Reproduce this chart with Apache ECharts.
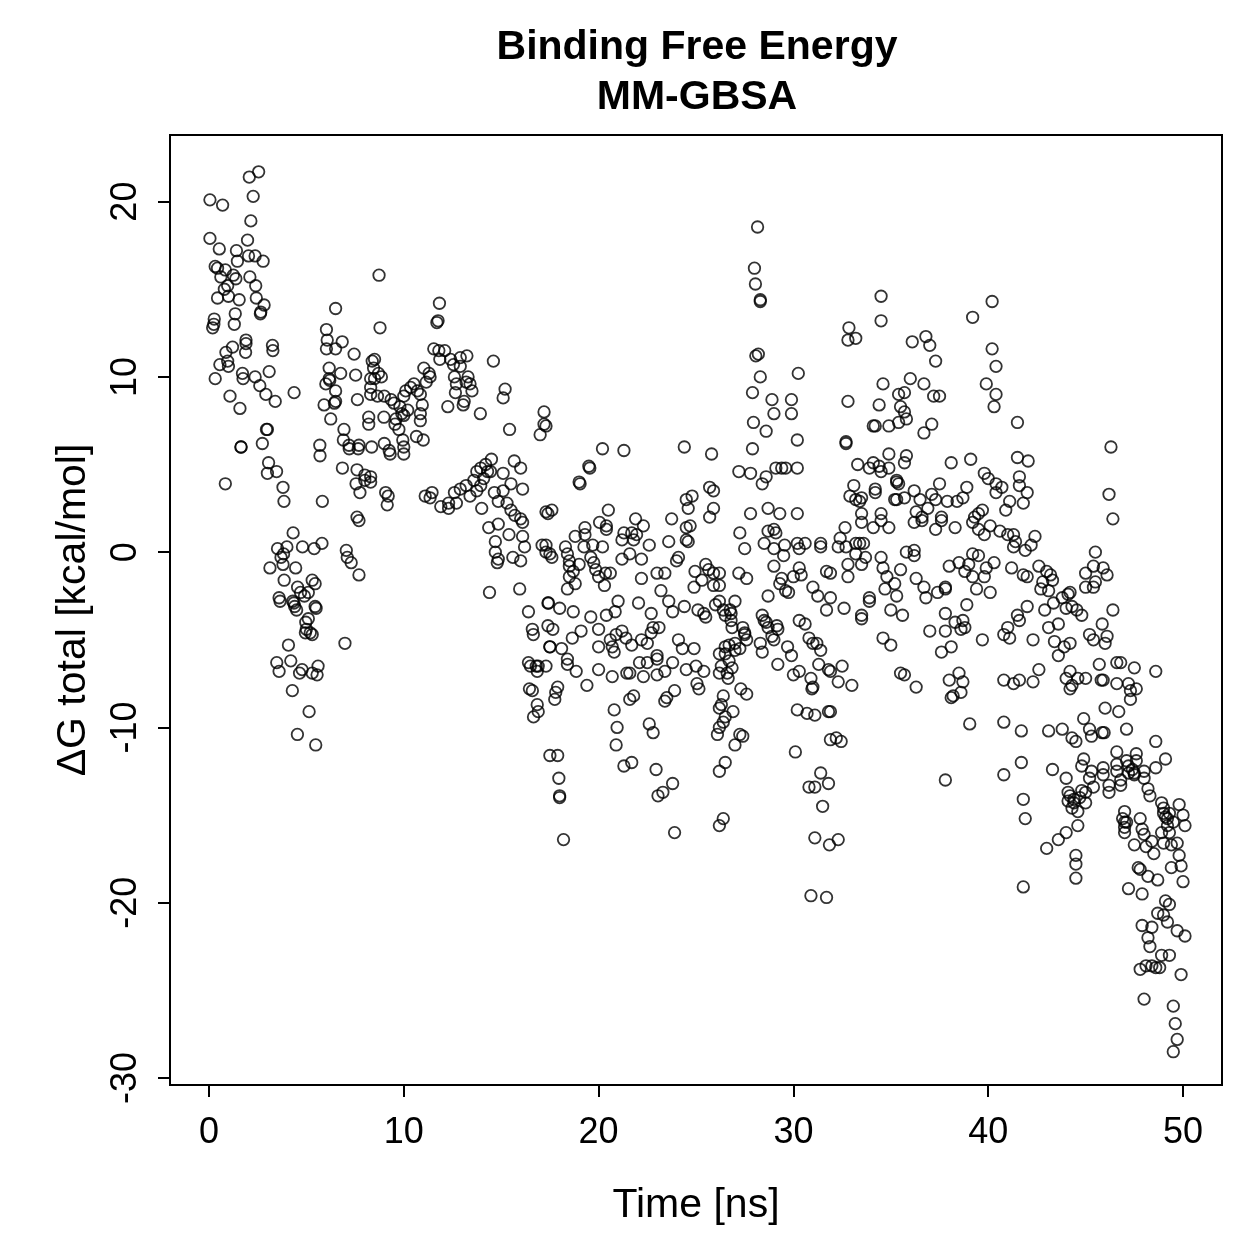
<!DOCTYPE html>
<html>
<head>
<meta charset="utf-8">
<title>Binding Free Energy MM-GBSA</title>
<script src="https://cdn.jsdelivr.net/npm/echarts@6/dist/echarts.min.js"></script>
<style>
  html, body { margin: 0; padding: 0; background: #fff; }
  #chart { width: 1259px; height: 1259px; }
</style>
</head>
<body>
<div id="chart"></div>
<script>
// tick positions shown on the axes
var xTicks = [0, 10, 20, 30, 40, 50];
var yTicks = [-30, -20, -10, 0, 10, 20];

// [time ns, dG kcal/mol], in time blocks
var seg0to5 = [[0.05,20.1],[0.7,19.8],[2.07,21.4],[2.55,21.7],[2.27,20.3],[2.15,18.9],[0.05,17.9],[1.98,17.8],[0.53,17.3],[1.41,17.2],[2.03,16.9],[2.37,16.9],[2.78,16.6],[1.46,16.6],[0.32,16.3],[0.44,16.2],[0.84,16.1],[0.61,15.7],[1.25,15.8],[1.38,15.6],[2.1,15.7],[2.4,15.2],[0.79,15.0],[0.96,15.2],[0.44,14.5],[1.0,14.6],[1.55,14.4],[2.43,14.5],[2.83,14.1],[2.66,13.7],[2.64,13.6],[1.35,13.6],[0.27,13.3],[0.25,13.0],[0.19,12.8],[1.3,13.0],[1.9,12.1],[1.9,11.9],[3.26,11.8],[3.28,11.5],[1.21,11.7],[0.87,11.4],[1.88,11.4],[0.56,10.7],[0.96,10.9],[1.0,10.6],[1.72,10.2],[1.75,9.9],[2.37,10.0],[3.09,10.3],[0.32,9.9],[2.61,9.5],[4.37,9.1],[2.92,9.0],[1.08,8.9],[3.4,8.6],[1.59,8.2],[2.95,7.0],[3.0,7.0],[2.74,6.2],[1.64,6.0],[1.65,6.0],[3.06,5.1],[3.0,4.5],[3.47,4.6],[0.84,3.9],[3.8,3.7],[3.85,2.9],[4.32,1.1],[3.52,0.2],[4.0,0.3],[3.83,-0.1],[3.7,-0.3],[4.8,0.3],[3.13,-0.9],[3.8,-0.7],[4.45,-0.9],[3.86,-1.6],[3.6,-2.6],[3.65,-2.8],[4.55,-2.0],[4.7,-2.3],[4.9,-2.5],[4.3,-2.8],[4.4,-3.1],[4.5,-3.3],[4.36,-2.9],[4.97,-4.0],[5.0,-4.4],[4.95,-4.6],[4.08,-5.3],[3.48,-6.3],[4.2,-6.2],[3.6,-6.8],[4.78,-6.7],[4.65,-6.9],[4.28,-7.9],[4.54,-10.4]];

var seg5to10 = [[6.5,13.9],[6.03,12.7],[6.07,12.1],[6.84,12.0],[6.03,11.6],[6.5,11.6],[7.45,11.3],[8.38,10.9],[6.17,10.5],[6.76,10.2],[7.53,10.1],[6.17,9.9],[6.2,9.8],[6.0,9.6],[8.3,9.9],[6.5,9.2],[5.91,8.4],[6.44,8.5],[6.5,8.6],[7.62,8.7],[8.3,9.0],[6.25,7.6],[8.2,7.3],[8.2,7.7],[6.93,7.0],[6.9,6.4],[7.19,6.1],[7.2,5.9],[7.7,6.1],[7.66,5.9],[5.69,6.1],[5.7,5.5],[6.85,4.8],[7.6,4.7],[8.0,4.4],[8.0,4.1],[7.55,3.9],[7.75,3.4],[5.82,2.9],[7.6,2.0],[7.7,1.8],[5.4,0.2],[5.8,0.5],[7.05,0.1],[7.1,-0.3],[7.3,-0.6],[7.7,-1.3],[5.3,-1.6],[5.45,-1.8],[5.1,-2.3],[5.45,-3.1],[5.1,-3.8],[5.5,-3.2],[5.2,-4.6],[5.3,-4.7],[6.98,-5.2],[5.3,-6.9],[5.55,-7.0],[5.6,-6.5],[5.14,-9.1],[5.48,-11.0],[8.73,15.8],[8.78,12.8],[8.5,11.0],[8.45,10.5],[8.7,10.2],[8.85,10.0],[8.5,9.9],[8.3,9.4],[8.65,8.9],[9.0,8.9],[9.35,8.7],[9.5,8.5],[8.98,7.7],[9.8,8.3],[9.9,7.9],[9.6,7.6],[9.55,7.3],[9.75,7.0],[9.95,6.4],[9.0,6.2],[9.25,5.8],[9.3,5.6],[8.35,6.0],[8.3,4.3],[8.3,4.0],[9.07,3.4],[9.2,3.2],[9.15,2.7]];

var seg10to15 = [[11.83,14.2],[11.76,13.2],[11.7,13.1],[11.54,11.6],[11.8,11.5],[12.1,11.5],[11.85,11.0],[13.24,11.2],[12.9,11.1],[12.4,11.0],[12.55,10.7],[12.9,10.6],[14.6,10.9],[11.03,10.5],[11.3,10.2],[11.35,10.0],[11.15,9.7],[12.6,10.0],[12.7,9.6],[13.3,10.0],[13.2,9.7],[13.5,9.2],[13.4,9.6],[10.52,9.6],[10.35,9.4],[10.7,9.2],[10.85,9.0],[10.1,9.2],[10.0,8.9],[12.65,9.1],[13.1,8.6],[13.05,8.4],[12.26,8.3],[13.93,7.9],[10.0,7.8],[10.2,8.1],[10.85,7.9],[10.85,7.5],[10.95,8.4],[10.65,6.6],[11.0,6.4],[10.0,6.0],[10.0,5.6],[11.1,3.2],[11.35,3.1],[11.45,3.4],[11.9,2.6],[12.3,2.5],[12.6,3.4],[12.3,2.8],[12.7,2.8],[12.9,3.6],[13.2,3.8],[13.4,3.2],[13.6,4.1],[13.75,4.6],[13.95,4.8],[14.2,5.0],[14.5,5.3],[14.3,4.6],[14.1,4.2],[13.95,3.8],[13.75,3.5],[14.45,4.6],[14.0,2.5],[14.36,1.4],[14.65,3.4],[14.85,2.9],[14.85,1.6],[14.7,0.6],[14.7,0.0],[14.85,-0.4],[14.8,-0.6],[14.4,-2.3]];

var seg15to20 = [[15.2,9.3],[15.1,8.8],[17.2,8.0],[17.2,7.3],[17.0,6.7],[15.43,7.0],[15.1,4.5],[15.67,5.2],[16.0,4.8],[15.1,3.5],[15.5,3.9],[16.1,3.6],[15.3,2.8],[15.5,2.4],[15.7,2.1],[16.0,1.9],[16.1,1.7],[15.4,1.0],[16.1,0.9],[16.2,0.3],[15.6,-0.3],[16.0,-0.5],[17.1,0.4],[17.3,0.0],[17.3,2.3],[15.95,-2.1],[17.4,-2.9],[16.4,-3.4],[16.6,-4.4],[16.65,-4.7],[17.4,-4.2],[17.5,-5.4],[16.4,-6.3],[16.8,-6.5],[16.85,-6.8],[16.45,-7.8],[16.6,-7.9],[16.85,-8.7],[16.5,-6.5],[16.9,-6.5],[16.66,-9.4],[16.9,-9.1],[17.5,-11.6],[17.3,7.2],[19.5,4.9],[19.55,4.8],[19.0,4.0],[19.05,3.9],[17.6,2.4],[17.4,2.2],[19.3,1.4],[20.05,1.7],[18.8,0.9],[19.3,1.0],[18.3,0.3],[17.3,0.4],[19.25,0.3],[19.7,0.4],[17.5,-0.1],[17.6,-0.3],[18.4,-0.1],[18.5,-0.5],[19.6,-0.3],[19.75,-0.6],[18.5,-0.8],[18.7,-1.1],[19.0,-0.7],[19.85,-1.0],[18.5,-1.4],[18.8,-1.8],[18.4,-2.1],[17.43,-2.9],[18.0,-3.2],[18.7,-3.4],[19.6,-3.7],[17.65,-4.4],[18.65,-4.9],[19.1,-4.5],[17.5,-5.4],[18.1,-5.5],[17.3,-6.5],[18.4,-6.1],[18.4,-6.4],[18.85,-6.8],[17.9,-7.7],[17.8,-8.0],[17.75,-8.4],[19.4,-7.6],[17.9,-11.6],[17.96,-12.9],[18.0,-14.0],[18.0,-13.9],[18.2,-16.4]];

var seg20to25 = [[20.2,5.9],[21.3,5.8],[24.4,6.0],[24.5,3.0],[24.8,3.2],[24.6,2.5],[20.5,2.4],[21.9,1.9],[22.3,1.5],[23.75,1.9],[24.5,1.4],[24.7,1.5],[20.4,1.3],[20.4,1.5],[21.3,1.1],[21.7,1.1],[21.95,1.0],[20.2,0.3],[21.2,0.7],[21.8,0.7],[22.6,0.4],[23.6,0.6],[24.6,0.6],[24.5,0.7],[21.2,-0.4],[21.6,-0.1],[22.2,-0.4],[24.1,-0.3],[24.0,-0.5],[24.95,-1.1],[20.0,-1.4],[20.35,-1.2],[20.6,-1.2],[20.3,-1.9],[22.2,-1.5],[23.0,-1.2],[23.4,-1.2],[23.2,-2.2],[24.9,-2.0],[20.4,-3.6],[20.85,-3.4],[21.0,-2.8],[22.05,-2.9],[22.7,-3.5],[23.6,-2.8],[23.8,-3.4],[24.4,-3.1],[20.0,-4.4],[21.2,-4.5],[22.8,-4.3],[23.1,-4.3],[22.7,-4.6],[20.9,-4.7],[20.0,-5.4],[20.6,-5.0],[20.7,-5.4],[20.8,-5.7],[21.4,-4.9],[21.7,-5.3],[22.2,-5.0],[22.5,-5.2],[22.1,-6.3],[22.5,-6.3],[23.0,-5.9],[23.0,-6.1],[23.8,-6.3],[24.1,-5.0],[24.3,-5.5],[24.9,-5.5],[20.0,-6.7],[20.7,-7.1],[21.45,-6.9],[21.6,-6.9],[22.3,-7.1],[23.0,-7.0],[23.4,-6.8],[24.5,-6.7],[21.6,-8.4],[21.8,-8.2],[23.5,-8.3],[23.9,-7.9],[23.4,-8.5],[20.8,-9.0],[20.95,-10.0],[22.6,-9.8],[22.8,-10.3],[20.9,-11.0],[21.3,-12.2],[21.7,-12.0],[22.95,-12.4],[23.05,-13.9],[23.3,-13.7],[23.8,-13.2],[23.9,-16.0]];

var seg25to30 = [[25.8,5.6],[25.7,3.7],[25.9,3.5],[25.9,2.5],[25.7,2.0],[25.5,-0.7],[25.65,-1.0],[25.9,-1.2],[25.3,-1.6],[25.9,-1.9],[25.1,-3.3],[25.4,-3.5],[25.5,-3.7],[26.0,-3.0],[26.2,-5.8],[25.0,-6.5],[25.4,-6.8],[26.2,-6.9],[26.3,-6.5],[25.05,-7.5],[25.15,-7.8],[26.2,-8.9],[26.2,-10.0],[26.1,-10.4],[26.2,-12.5],[26.2,-15.6],[28.16,18.55],[28.0,16.2],[28.05,15.3],[28.3,14.4],[28.3,14.3],[28.07,11.2],[28.2,11.3],[28.3,10.0],[27.9,9.1],[28.9,8.7],[29.9,8.7],[29.0,7.9],[29.9,7.9],[27.95,7.4],[28.6,6.9],[27.9,5.9],[27.2,4.6],[27.8,4.5],[29.1,4.8],[29.4,4.8],[29.6,4.8],[28.6,4.3],[28.4,3.9],[27.8,2.2],[28.7,2.5],[29.3,2.2],[27.25,1.1],[29.0,1.3],[28.7,1.2],[29.1,1.1],[27.5,0.2],[28.5,0.5],[29.0,0.2],[29.55,0.4],[29.5,-0.2],[29.0,-0.8],[29.4,-1.5],[29.3,-1.8],[29.6,-2.2],[27.2,-1.2],[27.6,-1.5],[28.7,-2.5],[26.2,-1.2],[26.2,-1.9],[27.0,-2.8],[26.75,-3.3],[26.4,-3.3],[26.8,-3.9],[27.4,-4.3],[27.5,-4.6],[28.4,-3.6],[28.6,-4.0],[29.15,-4.2],[28.9,-4.8],[28.3,-5.2],[29.7,-5.4],[27.0,-5.2],[26.7,-5.3],[26.5,-5.4],[29.75,-2.3],[26.2,-2.8],[26.8,-3.5],[26.5,-3.6],[26.85,-4.3],[27.5,-4.7],[27.6,-5.0],[28.5,-3.9],[28.7,-4.3],[29.2,-4.4],[29.0,-5.0],[28.4,-5.7],[29.2,-6.4],[29.9,-5.9],[26.5,-5.8],[26.7,-6.2],[26.85,-6.6],[26.6,-6.9],[26.65,-7.2],[27.0,-5.6],[27.25,-5.5],[26.4,-8.2],[26.3,-8.7],[26.5,-9.4],[26.4,-9.7],[26.9,-9.1],[27.3,-7.8],[27.6,-8.1],[27.25,-10.4],[27.4,-10.5],[27.0,-11.0],[26.5,-12.0],[26.4,-15.2]];

var seg30to35 = [[34.5,14.6],[34.5,13.2],[32.85,12.8],[32.8,12.1],[33.2,12.2],[30.25,10.2],[34.6,9.6],[34.4,8.4],[32.8,8.6],[30.2,6.4],[32.7,6.3],[32.7,6.2],[34.1,7.2],[34.2,7.2],[34.9,7.2],[34.9,5.6],[30.2,4.8],[33.3,5.0],[33.9,4.8],[34.1,5.1],[34.4,4.9],[34.5,4.6],[34.9,4.8],[33.1,3.8],[34.2,3.6],[32.9,3.2],[33.2,3.0],[33.4,2.9],[33.5,3.1],[34.2,3.4],[30.2,2.2],[33.5,2.2],[33.5,1.7],[34.5,2.2],[34.5,1.8],[34.9,1.4],[34.1,1.4],[32.65,1.4],[30.2,0.5],[30.6,0.5],[30.3,0.2],[31.4,0.5],[31.4,0.3],[32.4,0.8],[32.3,0.3],[32.7,0.3],[33.2,0.5],[33.4,0.5],[33.6,0.5],[33.2,-0.1],[33.7,-0.3],[32.8,-0.7],[33.5,-0.7],[34.5,-0.3],[34.6,-0.9],[34.8,-1.4],[34.7,-2.1],[33.9,-2.6],[33.5,-3.6],[32.8,-1.4],[31.7,-1.1],[31.9,-1.2],[30.3,-0.9],[30.4,-1.3],[30.0,-1.4],[31.0,-2.0],[31.25,-2.5],[31.9,-2.6],[31.7,-3.3],[32.6,-3.2],[30.3,-3.9],[30.8,-4.9],[31.0,-5.2],[34.6,-4.9],[33.5,-3.8],[33.9,-2.8],[30.6,-4.1],[31.2,-5.2],[31.4,-5.6],[31.3,-6.4],[31.8,-6.7],[31.9,-6.8],[32.5,-6.5],[32.3,-7.4],[33.0,-7.6],[30.0,-7.0],[30.3,-6.8],[30.9,-7.2],[31.0,-7.7],[30.95,-7.8],[30.2,-9.0],[30.7,-9.2],[31.1,-9.3],[31.8,-9.1],[31.9,-9.1],[31.9,-10.7],[32.2,-10.6],[32.45,-10.8],[30.1,-11.4],[31.4,-12.6],[31.8,-13.2],[30.8,-13.4],[31.1,-13.4],[31.5,-14.5],[31.1,-16.3],[31.85,-16.7],[32.3,-16.4],[30.9,-19.6],[31.7,-19.7]];

var seg35to40 = [[35.3,4.1],[35.3,3.0],[35.0,-3.3],[35.0,-5.3],[35.5,-6.9],[39.2,13.4],[36.1,12.0],[36.8,12.3],[37.0,11.8],[37.3,10.9],[39.9,9.6],[36.0,9.9],[36.7,9.6],[35.7,9.1],[35.4,9.0],[37.2,8.9],[37.5,8.9],[35.5,8.3],[35.7,8.0],[35.8,7.6],[35.4,7.4],[37.1,7.3],[36.7,6.8],[35.8,5.5],[35.7,5.1],[38.1,5.1],[39.1,5.3],[39.8,4.5],[35.3,4.0],[35.4,3.9],[36.2,3.5],[37.5,3.9],[38.9,3.7],[35.2,3.0],[35.7,3.1],[36.5,3.0],[37.1,3.3],[37.3,3.0],[37.9,2.9],[38.4,2.9],[38.7,3.1],[36.9,2.5],[36.3,2.3],[36.6,2.0],[36.2,1.7],[36.6,1.8],[37.6,2.0],[37.6,1.8],[37.3,1.3],[38.3,1.4],[39.5,2.2],[39.3,2.0],[39.7,2.4],[39.2,1.7],[39.5,1.3],[39.8,1.0],[35.8,0.0],[36.2,-0.2],[36.2,0.1],[39.2,-0.1],[39.5,-0.2],[35.5,-1.0],[35.2,-1.8],[35.3,-2.5],[35.6,-3.6],[36.3,-1.5],[36.7,-2.0],[36.8,-2.6],[37.4,-2.3],[37.8,-2.0],[37.8,-2.1],[38.0,-0.8],[38.5,-0.6],[39.0,-0.7],[38.8,-1.1],[39.2,-1.4],[39.8,-1.4],[39.9,-0.9],[39.4,-2.1],[37.8,-3.5],[37.0,-4.5],[37.8,-4.5],[38.9,-3.0],[38.3,-4.0],[38.7,-3.9],[38.8,-4.3],[38.6,-4.4],[37.6,-5.7],[38.1,-5.4],[39.7,-5.0],[35.7,-7.0],[36.3,-7.7],[38.0,-7.3],[38.5,-6.9],[38.7,-7.4],[38.6,-8.0],[38.2,-8.2],[38.1,-8.3],[39.05,-9.8],[37.8,-13.0]];

var seg40to45 = [[40.2,14.3],[40.2,11.6],[40.4,10.6],[40.4,9.0],[40.3,8.3],[41.5,7.4],[41.5,5.4],[42.05,5.2],[40.0,4.2],[40.4,3.9],[40.7,3.7],[40.4,3.4],[41.6,4.3],[41.6,3.8],[42.0,3.4],[41.8,2.8],[41.1,2.9],[40.9,2.4],[40.1,1.5],[40.6,1.2],[41.0,1.0],[41.3,1.0],[41.4,0.6],[41.3,0.3],[42.4,0.9],[42.2,0.4],[41.9,0.1],[40.3,-0.6],[40.1,-2.3],[41.2,-0.9],[41.8,-1.3],[42.0,-1.4],[42.6,-0.8],[43.0,-1.1],[43.2,-1.3],[42.8,-1.7],[42.7,-2.1],[43.3,-1.6],[43.1,-2.2],[43.35,-2.9],[43.8,-2.6],[44.1,-2.4],[44.0,-3.2],[42.9,-3.3],[40.8,-4.7],[41.1,-4.9],[41.0,-4.3],[41.5,-3.6],[41.6,-3.9],[42.0,-3.1],[42.3,-5.0],[43.1,-4.3],[43.6,-4.1],[43.4,-5.1],[43.9,-5.4],[43.6,-5.9],[40.8,-7.3],[41.3,-7.5],[41.6,-7.3],[42.3,-7.4],[42.6,-6.7],[44.0,-7.2],[44.2,-7.8],[40.8,-9.7],[41.7,-10.2],[43.1,-10.2],[43.8,-10.1],[44.3,-10.6],[40.8,-12.7],[41.7,-12.0],[41.8,-14.1],[41.9,-15.2],[41.8,-19.1],[43.3,-12.4],[44.0,-12.9],[44.1,-13.7],[44.1,-14.2],[44.4,-14.3],[44.3,-14.6],[44.0,-16.0],[43.6,-16.4],[43.0,-16.9],[44.5,-17.3],[44.5,-17.8],[44.5,-18.6],[44.2,-2.3],[44.3,-3.1],[44.55,-3.3],[44.8,-3.6],[44.2,-5.2],[44.2,-6.8],[44.6,-7.2],[44.3,-7.6],[44.9,-9.5],[44.5,-10.8],[44.9,-11.8],[44.2,-13.9],[44.4,-14.1],[44.8,-13.6],[44.6,-14.8],[44.8,-12.2],[44.6,-15.6]];

var seg45to50 = [[46.3,6.0],[46.2,3.3],[46.4,1.9],[45.5,0.0],[45.4,-0.8],[45.0,-1.2],[45.9,-0.9],[46.1,-1.3],[45.5,-1.7],[45.0,-2.0],[45.4,-2.0],[46.4,-3.3],[45.85,-4.1],[45.2,-4.7],[45.4,-5.0],[46.0,-5.2],[46.1,-4.8],[45.7,-6.4],[46.6,-6.3],[46.8,-6.3],[47.5,-6.6],[48.6,-6.8],[45.0,-7.2],[45.8,-7.3],[45.9,-7.3],[46.6,-7.5],[47.2,-7.5],[47.6,-7.8],[47.3,-7.9],[47.3,-8.4],[46.0,-8.9],[46.7,-9.1],[45.2,-10.1],[45.3,-10.5],[45.85,-10.3],[45.95,-10.3],[47.1,-10.1],[48.6,-10.8],[46.6,-11.4],[47.6,-11.5],[49.1,-11.8],[45.3,-12.5],[45.9,-12.3],[46.6,-12.1],[47.1,-11.9],[47.2,-12.2],[47.4,-12.4],[47.5,-12.6],[48.0,-12.5],[46.8,-13.0],[46.2,-13.3],[48.2,-13.5],[45.0,-13.7],[45.4,-13.4],[47.0,-14.8],[46.9,-15.2],[47.0,-15.4],[47.8,-15.2],[48.9,-14.3],[49.0,-14.6],[49.3,-14.9],[49.1,-15.1],[49.8,-14.4],[50.0,-15.0],[48.0,-16.1],[48.4,-16.5],[48.9,-16.0],[49.3,-16.0],[49.7,-16.6],[47.5,-16.7],[45.2,-12.9],[45.9,-12.7],[46.6,-12.5],[47.2,-12.6],[47.5,-12.7],[48.0,-12.9],[46.8,-13.3],[46.2,-13.7],[48.3,-13.9],[47.6,-11.9],[48.6,-12.3],[45.0,-14.3],[44.7,-14.0],[47.1,-15.4],[47.0,-15.7],[47.0,-16.0],[47.9,-15.8],[49.0,-14.9],[49.2,-15.2],[49.5,-15.4],[49.2,-15.6],[50.1,-15.6],[48.1,-16.8],[48.5,-17.2],[49.0,-16.6],[49.4,-16.7],[49.8,-17.3],[49.9,-17.9],[49.4,-18.0],[50.0,-18.8],[47.7,-18.0],[47.8,-18.1],[48.2,-18.5],[48.7,-18.7],[47.2,-19.2],[47.9,-19.5],[49.1,-19.9],[49.3,-20.1],[48.7,-20.6],[49.0,-20.7],[49.2,-21.1],[49.7,-21.6],[50.1,-21.9],[47.9,-21.3],[48.4,-21.4],[48.2,-22.0],[48.3,-22.5],[48.9,-23.0],[49.3,-23.0],[47.8,-23.8],[48.1,-23.6],[48.4,-23.6],[48.6,-23.7],[48.8,-23.7],[49.9,-24.1],[48.0,-25.5],[49.5,-25.9],[49.6,-26.9],[49.7,-27.8],[49.5,-28.5]];

var points = [].concat(seg0to5, seg5to10, seg10to15, seg15to20, seg20to25,
    seg25to30, seg30to35, seg35to40, seg40to45, seg45to50);

var font = "'Liberation Sans', Arial, Helvetica, sans-serif";
var myChart = echarts.init(document.getElementById('chart'), null, { renderer: 'canvas' });

var option = {
    animation: false,
    backgroundColor: '#ffffff',
    title: {
        text: 'Binding Free Energy\nMM-GBSA',
        left: 692,
        top: 18,
        textAlign: 'center',
        textStyle: {
            fontFamily: font,
            fontSize: 41,
            fontWeight: 'bold',
            color: '#000',
            lineHeight: 50
        }
    },
    grid: {
        left: 170,
        top: 135,
        width: 1052,
        height: 950,
        show: true,
        borderColor: '#000',
        borderWidth: 2,
        backgroundColor: 'transparent'
    },
    xAxis: {
        type: 'value',
        min: -2,
        max: 52,
        name: 'Time [ns]',
        nameLocation: 'middle',
        nameGap: 100,
        nameTextStyle: { fontFamily: font, fontSize: 41, color: '#000' },
        axisLine: { show: false, onZero: false },
        axisTick: {
            show: true,
            length: 12,
            customValues: xTicks,
            lineStyle: { color: '#000', width: 2 }
        },
        axisLabel: {
            customValues: xTicks,
            margin: 30,
            fontFamily: font,
            fontSize: 36,
            color: '#000'
        },
        splitLine: { show: false }
    },
    yAxis: {
        type: 'value',
        min: -30.4,
        max: 23.8,
        name: 'ΔG total [kcal/mol]',
        nameLocation: 'middle',
        nameGap: 76,
        nameTextStyle: { fontFamily: font, fontSize: 41, color: '#000' },
        axisLine: { show: false, onZero: false },
        axisTick: {
            show: true,
            length: 12,
            customValues: yTicks,
            lineStyle: { color: '#000', width: 2 }
        },
        axisLabel: {
            customValues: yTicks,
            rotate: 90,
            margin: 26,
            fontFamily: font,
            fontSize: 36,
            color: '#000'
        },
        splitLine: { show: false }
    },
    series: [{
        type: 'scatter',
        silent: true,
        symbol: 'circle',
        symbolSize: 11.5,
        itemStyle: {
            color: 'rgba(0,0,0,0)',
            borderColor: '#000',
            borderWidth: 1.8
        },
        data: points
    }]
};
myChart.setOption(option);
</script>
</body>
</html>
